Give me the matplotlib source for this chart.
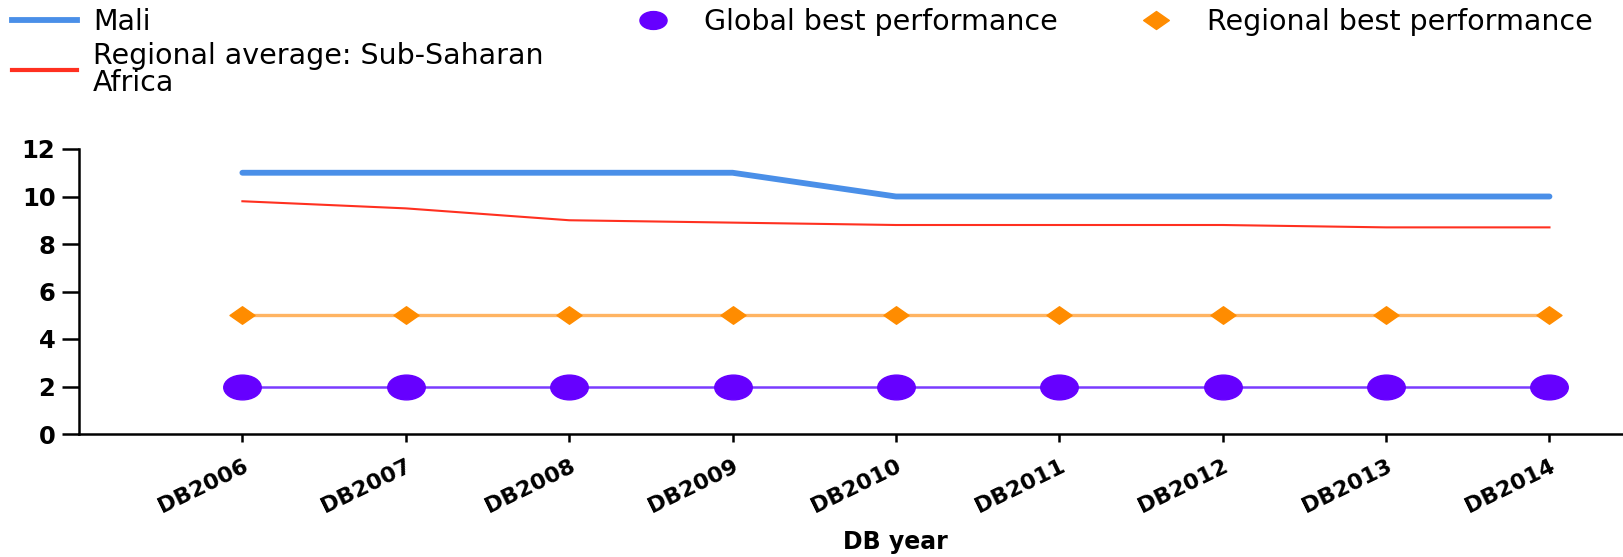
import matplotlib
matplotlib.use("Agg")
import matplotlib.pyplot as plt
from matplotlib.path import Path
from matplotlib.lines import Line2D
from matplotlib.transforms import Affine2D

# data
annees = ["DB2006", "DB2007", "DB2008", "DB2009", "DB2010",
          "DB2011", "DB2012", "DB2013", "DB2014"]
mali = [11, 11, 11, 11, 10, 10, 10, 10, 10]
moyenne_regionale = [9.8, 9.5, 9.0, 8.9, 8.8, 8.8, 8.8, 8.7, 8.7]
meilleur_global = [2, 2, 2, 2, 2, 2, 2, 2, 2]
meilleur_regional = [5, 5, 5, 5, 5, 5, 5, 5, 5]

# marqueurs un peu aplatis comme sur l'original
ellipse = Path.unit_circle().transformed(Affine2D().scale(1.0, 0.66))
losange = Path([(0, 1), (1, 0), (0, -1), (-1, 0), (0, 1)],
               [Path.MOVETO, Path.LINETO, Path.LINETO, Path.LINETO, Path.CLOSEPOLY])
losange = losange.transformed(Affine2D().scale(1.0, 0.70))

W, H = 1623, 557
fig = plt.figure(figsize=(W / 100, H / 100), dpi=100)
ax = fig.add_axes([79 / W, 1 - 434 / H, 1 - 79 / W, 285 / H])

x = list(range(len(annees)))
ax.plot(x, mali, color="#4a8fe8", lw=4.2, solid_capstyle="round")
ax.plot(x, moyenne_regionale, color="#ff3020", lw=1.5)
ax.plot(x, meilleur_regional, color="#ffb462", lw=2.4,
        marker=losange, markersize=18, markerfacecolor="#ff8c00",
        markeredgecolor="#ff8c00")
ax.plot(x, meilleur_global, color="#7a3cff", lw=1.8,
        marker=ellipse, markersize=27, markerfacecolor="#6600ff",
        markeredgecolor="#6600ff")

ax.set_xlim(-1.0, 8.45)
ax.set_ylim(0, 12)
ax.set_yticks([0, 2, 4, 6, 8, 10, 12])
ax.set_xticks(x)
ax.set_xticklabels(annees, rotation=26, ha="right", rotation_mode="anchor",
                   fontsize=16, fontweight="bold")
for t in ax.get_yticklabels():
    t.set_fontsize(17.5)
    t.set_fontweight("bold")

for s in ["top", "right"]:
    ax.spines[s].set_visible(False)
for s in ["left", "bottom"]:
    ax.spines[s].set_linewidth(1.8)
ax.tick_params(axis="y", length=12, width=1.8, pad=5)
ax.tick_params(axis="x", length=6, width=1.8, pad=10)

ax.set_xlabel("DB year", fontsize=17, fontweight="bold", va="center")
ax.xaxis.set_label_coords(0.529, -0.38)

# légende en trois blocs
police = {"family": "DejaVu Sans", "size": 20.5}
haut = 1 - 8 / H

leg1 = fig.legend([Line2D([], [], color="#4a8fe8", lw=4.2),
                   Line2D([], [], color="#ff3020", lw=3.0)],
                  ["Mali", "Regional average: Sub-Saharan\nAfrica"],
                  loc="upper left", bbox_to_anchor=(12 / W, haut),
                  frameon=False, handlelength=2.3, handletextpad=0.55,
                  labelspacing=0.2, prop=police, borderaxespad=0, borderpad=0)
for t in leg1.get_texts():
    t.set_linespacing(0.95)

fig.legend([Line2D([], [], ls="none", marker=ellipse, markersize=19.5, color="#6600ff")],
           ["Global best performance"],
           loc="upper left", bbox_to_anchor=(639 / W, haut),
           frameon=False, handlelength=1.0, handletextpad=1.3,
           prop=police, borderaxespad=0, borderpad=0)

fig.legend([Line2D([], [], ls="none", marker=losange, markersize=18.5, color="#ff8c00")],
           ["Regional best performance"],
           loc="upper left", bbox_to_anchor=(1142 / W, haut),
           frameon=False, handlelength=1.0, handletextpad=1.3,
           prop=police, borderaxespad=0, borderpad=0)

fig.savefig("out.png", dpi=100, facecolor="white")
